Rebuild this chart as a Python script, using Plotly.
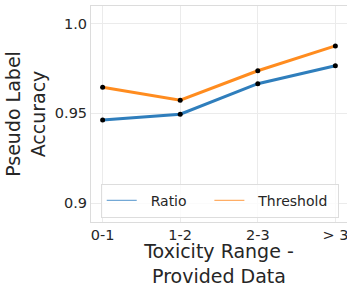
import plotly.graph_objects as go

categories = ["0-1", "1-2", "2-3", "> 3"]
ratio = [0.9463, 0.9495, 0.9665, 0.9765]
threshold = [0.9645, 0.9573, 0.9737, 0.9875]
y_ticks = [0.9, 0.95, 1.0]
y_tick_labels = ["0.9", "0.95", "1.0"]

BLUE = "#2f7ebc"
ORANGE = "#ff8c1f"
FONT = "DejaVu Sans"
TXT = "#262626"

x_idx = list(range(len(categories)))

fig = go.Figure()
for vals, col in [(ratio, BLUE), (threshold, ORANGE)]:
    fig.add_trace(go.Scatter(
        x=x_idx, y=vals, mode="lines+markers",
        line=dict(color=col, width=3),
        marker=dict(color="black", size=5),
        showlegend=False, hoverinfo="skip", cliponaxis=False,
    ))

legend_names = ["\u00a0\u00a0Ratio\u00a0\u00a0\u00a0\u00a0", "\u00a0\u00a0Threshold\u00a0"]
for name, col in zip(legend_names, ["#74a9d6", "#ffae66"]):
    fig.add_trace(go.Scatter(
        x=[None], y=[None], mode="lines", name=name,
        line=dict(color=col, width=1.2),
    ))

fig.update_layout(
    width=347, height=287,
    margin=dict(l=91, r=0, t=6, b=65),
    paper_bgcolor="white", plot_bgcolor="white",
    font=dict(family=FONT, color=TXT, size=14),
    legend=dict(
        orientation="h", x=0.038, y=0.02, xanchor="left", yanchor="bottom",
        bgcolor="rgba(255,255,255,0.8)", bordercolor="#dddddd", borderwidth=1,
        font=dict(family=FONT, size=14, color=TXT),
    ),
)
fig.update_xaxes(
    range=[-0.15, 3.15], tickmode="array", tickvals=x_idx, ticktext=categories,
    showgrid=True, gridcolor="#ebebeb", gridwidth=1,
    showline=True, linecolor="#dcdcdc", linewidth=1, mirror=True,
    ticks="", tickfont=dict(size=14.5), zeroline=False, automargin=False,
    ticklabeloverflow="allow",
    title=dict(text="Toxicity Range -<br>Provided Data", font=dict(size=19), standoff=2),
)
fig.update_yaxes(
    range=[0.8896, 1.0097], tickmode="array", tickvals=y_ticks, ticktext=y_tick_labels,
    showgrid=True, gridcolor="#ebebeb", gridwidth=1,
    showline=True, linecolor="#dcdcdc", linewidth=1, mirror=True,
    ticks="", tickfont=dict(size=14.5), zeroline=False, automargin=False,
    title=dict(text="Pseudo Label<br>Accuracy", font=dict(size=19), standoff=4),
)

fig.write_html(
    "out.html",
    config={"displayModeBar": False},
    post_script="document.body.style.margin='0';document.body.style.overflow='hidden';",
)
